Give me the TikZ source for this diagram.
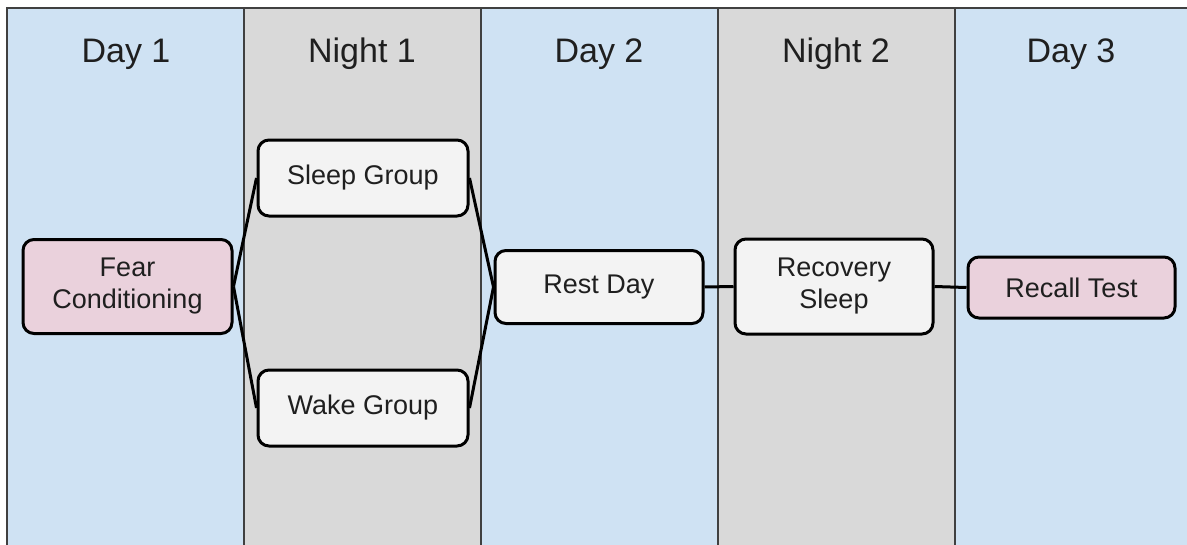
\documentclass[tikz,border=0pt]{standalone}
\usepackage{fontspec}
\setmainfont{Liberation Sans}
\definecolor{daycol}{HTML}{CFE2F3}
\definecolor{nightcol}{HTML}{D9D9D9}
\definecolor{boxcol}{HTML}{F3F3F3}
\definecolor{pinkcol}{HTML}{EAD1DC}
\definecolor{sepcol}{HTML}{404040}
\definecolor{txtcol}{HTML}{1F1F1F}
\tikzset{
  colday/.style={fill=daycol, draw=sepcol, line width=2pt},
  colnight/.style={fill=nightcol, draw=sepcol, line width=2pt},
  title/.style={anchor=base, text=txtcol, font=\fontsize{34}{40}\selectfont},
  stagebox/.style={draw=black, line width=3pt, rounded corners=11pt, fill=boxcol,
    align=center, text=txtcol, font=\fontsize{27}{32}\selectfont, inner sep=0pt},
  pinkbox/.style={stagebox, fill=pinkcol},
  link/.style={draw=black, line width=3pt}
}
\begin{document}
\begin{tikzpicture}[x=1pt,y=-1pt]
\useasboundingbox (0,0) rectangle (1187,544);
\begin{scope}
\clip (0,0) rectangle (1187,544);
\path[colday]   (7,8) rectangle (244,560);
\path[colnight] (244,8) rectangle (481,560);
\path[colday]   (481,8) rectangle (718,560);
\path[colnight] (718,8) rectangle (955,560);
\path[colday]   (955,8) rectangle (1200,560);
\end{scope}
\node[title] (t1) at (126,62) {Day 1};
\node[title] (t2) at (362,62) {Night 1};
\node[title] (t3) at (599,62) {Day 2};
\node[title] (t4) at (836,62) {Night 2};
\node[title] (t5) at (1071,62) {Day 3};

\node[pinkbox, minimum width=209pt, minimum height=94pt] (fc) at (127.5,286.5) {Fear\\Conditioning};
\node[stagebox, minimum width=210pt, minimum height=76pt] (sg) at (363,178) {Sleep Group};
\node[stagebox, minimum width=210pt, minimum height=76pt] (wg) at (363,408) {Wake Group};
\node[stagebox, minimum width=208pt, minimum height=73pt] (rd) at (599,287) {Rest Day};
\node[stagebox, minimum width=198pt, minimum height=95pt] (rs) at (834,286.5) {Recovery\\Sleep};
\node[pinkbox, minimum width=207pt, minimum height=61pt] (rt) at (1071.5,287.5) {Recall Test};

\draw[link] (fc.east) -- (sg.west);
\draw[link] (fc.east) -- (wg.west);
\draw[link] (sg.east) -- (rd.west);
\draw[link] (wg.east) -- (rd.west);
\draw[link] (rd.east) -- (rs.west);
\draw[link] (rs.east) -- (rt.west);
\end{tikzpicture}
\end{document}
